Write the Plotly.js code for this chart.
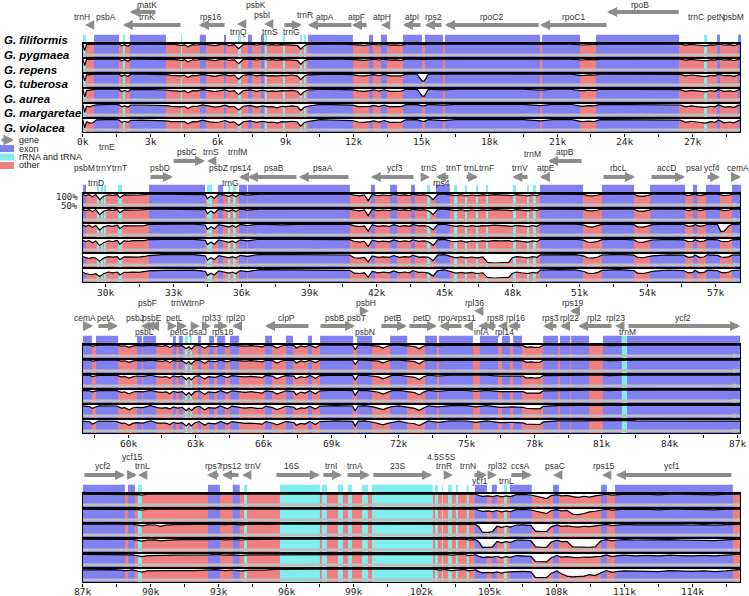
<!DOCTYPE html>
<html><head><meta charset="utf-8">
<script src="https://cdn.plot.ly/plotly-3.0.1.min.js"></script>
<style>html,body{margin:0;padding:0;background:#fff}#chart{width:749px;height:596px}</style>
</head><body><div id="chart"></div>
<script>
// ---------------- DATA ----------------
const species = ["G. filiformis","G. pygmaea","G. repens","G. tuberosa","G. aurea","G. margaretae","G. violacea"];
const t1 = ["0k","3k","6k","9k","12k","15k","18k","21k","24k","27k"];
const t2 = ["30k","33k","36k","39k","42k","45k","48k","51k","54k","57k"];
const t3 = ["60k","63k","66k","69k","72k","75k","78k","81k","84k","87k"];
const t4 = ["87k","90k","93k","96k","99k","102k","105k","108k","111k","114k"];

// panel 1 identity (%)
const p1x = [0,0.08,0.16,0.3,0.45,0.6,1.4,1.6,1.72,1.85, 2.0,2.12,2.6,3.0,3.4,3.7,3.9,4.1,4.35,4.5, 4.65,4.85,5.05,5.3,5.6,5.85,6.05,6.3,6.5,6.7, 6.9,7.1,7.4,7.7,7.95,8.2,8.4,8.6,8.8,9.0, 9.25,9.5,9.65,9.8,9.95,10.5,11.0,11.5,11.95,12.2, 12.45,12.7,12.9,13.1,13.35,13.6,13.85,14.1,14.3,14.8, 15.03,15.12, 15.3,15.98,16.5,17.5,18.5,19.5,20.28,20.8,21.6,22.1, 22.4,22.65,22.9,23.8,24.8,25.8,26.45,26.7,26.95,27.2, 27.4,27.58,27.8,28.0,28.15,28.4,28.65,28.85,29.05,29.16];
const p1pyg = [100,65,98,99,100,100,100,100,90,97, 88,100,100,100,100,99,96,98,92,97, 85,97,95,100,96,92,97,99,92,97, 75,97,100,95,99,95,97,94,97,96, 97,93,72,90,98,100,100,99,99,96, 93,97,99,95,99,94,96,93,100,100, 97,97, 100,99,100,100,100,100,98,100,100,95, 98,97,100,100,100,100,99,94,98,95, 93,90,96,94,100,95,97,92,99,100];
const p1rep = [100,65,98,99,100,100,100,100,90,97, 88,100,100,100,100,99,96,97,92,97, 85,96,95,100,96,92,97,99,92,97, 75,97,100,95,99,95,97,94,97,96, 97,93,72,90,98,100,100,99,99,96, 93,97,99,95,99,94,96,93,100,100, 97,97, 100,99,100,100,100,100,98,100,100,95, 98,96,100,100,100,100,99,94,98,95, 93,90,96,94,100,95,97,92,99,100];
const p1tub = [100,62,96,97,99,100,100,99,88,95, 87,99,99,98,99,97,93,92,90,94, 82,93,92,98,92,88,93,97,90,94, 72,93,98,90,96,90,92,90,93,92, 95,90,70,88,96,99,99,98,97,92, 90,94,97,91,98,90,92,90,99,99, 62,62, 99,97,99,99,99,100,96,99,100,92, 96,94,99,100,99,100,98,90,95,92, 88,86,93,90,99,91,93,88,97,99];
const p1aur = [100,58,92,95,97,100,100,98,86,92, 86,97,98,97,98,95,92,90,88,92, 80,91,90,97,90,86,90,96,88,92, 70,92,96,88,94,88,90,88,92,90, 93,88,68,86,94,99,98,97,96,90, 88,92,96,89,96,88,90,89,98,99, 62,62, 99,96,99,98,99,99,94,99,99,90, 94,92,99,99,99,99,97,88,93,90, 88,85,92,88,97,88,90,86,96,98];
const p1mar = [98,55,88,85,92,96,99,96,85,90, 84,95,95,94,96,92,88,86,85,88, 76,88,87,95,87,84,86,94,85,87, 68,88,93,84,90,85,86,80,88,86, 90,86,65,82,88,98,97,96,94,86, 85,88,93,86,94,85,86,86,97,98, 90,90, 98,94,98,97,98,98,92,98,99,88, 92,90,98,98,98,98,95,85,90,86, 84,82,88,85,96,84,86,82,94,97];
const p1vio = [95,52,85,78,80,96,98,95,82,88, 82,93,94,93,94,90,86,85,83,86, 75,86,85,94,85,82,84,92,82,85, 65,85,90,82,88,82,84,78,86,85, 88,84,62,80,86,97,95,95,92,84, 82,86,90,84,92,82,85,84,96,97, 88,88, 97,92,97,96,96,97,90,97,98,86, 89,86,97,97,97,98,94,82,88,84, 80,78,86,82,95,80,84,80,92,96];

// panel 2 identity (%)
const p2x = [28.94,29.10,29.25,29.40,29.55,29.72,29.90,30.10,30.30,30.50, 30.62,30.80,31.00,31.20,31.45,31.70,31.90,32.5,33.2,33.9, 34.40,34.50,34.65,34.80,35.00,35.25,35.45,35.60,35.75,35.95, 36.27,36.8,37.8,38.8,39.8,40.8,41.0,41.25,41.45,41.62, 41.80,42.05,42.30,42.55,42.75,43.00,43.25,43.45,43.60,43.85, 44.10,44.30,44.50,44.70,45.0,45.30,45.50,45.75,45.95,46.20, 46.45,46.70,46.90,47.20,47.50,47.85,48.00,48.20,48.40,48.70, 48.90,49.10,49.25,50.0,50.8,51.15,51.35,51.55,51.80,51.98, 52.7,53.4,53.55,53.80,54.05,54.2,54.9,55.6,55.80,56.00, 56.10,56.30,56.50,56.65,57.10,57.25,57.40,57.60,57.75,58.14];
const p2pyg = [99,92,97,85,97,70,88,96,93,97, 80,96,94,96,95,97,100,100,100,100, 97,75,90,78,99,94,88,96,86,100, 94,100,100,100,100,99,94,90,95,65, 98,92,95,91,99,93,96,92,100,94, 96,90,70,99,100,95,92,96,90,95, 92,96,93,97,95,96,92,97,94,90, 96,91,100,100,100,98,92,90,95,100, 100,99,90,88,94,99,100,99,92,95, 100,92,95,100,99,94,92,95,99,100];
const p2rep = [99,92,97,86,97,70,88,96,93,97, 80,96,94,96,95,97,100,100,100,100, 97,75,90,78,99,94,88,96,86,100, 94,100,100,100,100,99,94,90,95,65, 98,92,95,91,99,93,96,92,100,94, 96,90,70,99,100,95,92,96,90,95, 92,96,93,97,95,96,92,97,94,90, 96,91,100,100,100,98,92,90,95,100, 100,99,90,88,94,99,100,99,92,95, 100,92,95,100,99,94,92,95,99,100];
const p2tub = [97,88,94,82,92,68,85,92,88,94, 75,92,90,91,90,92,98,100,99,99, 95,72,86,75,97,90,84,92,82,98, 92,100,96,100,99,98,90,86,90,62, 96,88,91,87,97,88,92,88,98,90, 92,87,68,97,99,90,88,92,86,91, 88,92,90,94,92,93,88,93,90,86, 92,88,99,100,99,96,86,84,90,98, 99,97,85,84,90,97,99,98,88,90, 98,88,91,99,97,60,62,90,98,99];
const p2aur = [95,86,92,80,90,65,80,90,86,92, 72,90,88,92,92,92,97,99,99,98, 93,70,84,72,95,88,82,90,80,96, 90,99,99,99,99,97,88,84,88,60, 94,86,89,85,95,86,90,86,96,88, 90,85,66,96,98,88,86,90,84,89, 86,90,88,92,90,91,86,91,88,84, 90,86,98,99,99,94,84,82,88,97, 99,96,84,82,88,95,98,96,86,88, 97,86,89,98,96,88,86,88,96,98];
const p2mar = [88,80,76,82,78,62,78,86,84,86, 70,85,84,86,84,87,92,97,96,97, 90,68,80,70,92,84,80,86,78,93, 88,98,97,98,97,95,80,78,82,58, 90,82,85,82,92,82,86,83,94,84, 85,82,64,94,97,86,80,85,80,84, 80,85,55,52,52,55,80,86,84,80, 86,82,96,98,97,90,80,78,84,95, 98,94,82,80,84,90,96,94,82,85, 95,82,84,96,93,84,82,85,94,96];
const p2vio = [86,75,72,70,75,60,75,84,80,84, 68,82,82,84,82,85,90,93,93,94, 88,65,78,68,90,82,78,84,76,92, 86,97,96,96,96,93,78,76,80,56, 88,80,83,80,90,80,84,80,92,82, 82,78,62,92,96,84,78,82,78,82, 76,80,55,52,52,55,76,84,80,76, 82,78,94,97,96,88,78,76,82,93, 97,92,78,76,82,88,95,92,80,82, 93,80,82,94,92,82,80,84,92,95];

// panel 3 identity (%)
const p3x = [57.96,58.30,58.42,58.55,58.70,59.50,59.70,59.85,60.05,60.20, 60.38,60.65,61.0,61.30,61.50,61.70,61.85,62.00,62.20,62.40, 62.58,62.70,62.80,62.95,63.15,63.40,63.55,63.88,64.10,64.40, 64.60,65.00,65.20,65.45,65.70,65.95,66.10,66.40,66.60,66.80, 67.00,67.35,67.45,67.65,67.85,68.05,68.30,68.50,69.2,69.95, 70.06,70.2,70.5,70.85,71.1,71.30,71.50,71.7,72.0,72.40, 72.70,72.90,73.10,73.30,73.73,74.3,75.0,75.40,75.9,76.48, 77.0,77.5,77.65,77.85,78.05,78.25,78.40,79.0,79.8,80.4, 81.0,81.3,81.9,82.5,83.5,84.5,85.0,86.0,87.17];
const p3pyg = [100,99,94,96,100,99,94,96,88,94, 98,96,100,96,93,97,86,98,94,97, 80,92,78,96,99,82,96,92,99,90, 99,96,94,97,92,90,99,97,84,95, 99,97,84,95,90,99,86,99,100,99, 76,99,100,97,94,84,95,99,100,96, 92,80,95,100,97,100,100,97,100,96, 98,97,88,90,87,89,99,100,100,100, 100,97,100,100,100,100,100,100,100];
const p3rep = [100,99,94,96,100,99,94,96,88,94, 98,96,100,96,93,97,86,98,94,97, 80,92,78,96,99,82,96,92,99,90, 99,96,94,97,92,90,99,97,84,95, 99,97,84,95,90,99,86,99,100,99, 76,99,100,97,94,84,95,99,100,96, 92,80,95,100,97,100,100,97,100,96, 98,97,88,90,87,89,99,100,100,100, 100,97,100,100,100,100,100,100,100];
const p3tub = [99,98,92,94,99,98,90,93,84,90, 95,93,99,92,89,92,82,95,90,94, 75,88,74,92,97,78,92,88,98,86, 97,92,90,93,88,86,98,94,80,91, 97,94,80,91,86,98,82,97,99,98, 74,98,99,95,90,80,91,98,99,92, 88,76,91,99,95,99,99,95,99,94, 96,94,84,86,84,86,97,99,99,100, 100,97,100,100,100,100,99,100,100];
const p3aur = [98,96,90,92,98,97,88,90,80,88, 93,90,98,90,87,90,80,93,88,92, 72,86,72,90,96,76,90,86,97,84, 96,90,88,91,86,84,96,92,78,89, 96,92,75,89,84,96,80,96,99,97, 72,97,98,93,88,78,89,97,98,90, 86,74,89,98,93,99,98,93,98,92, 94,92,84,85,83,84,96,98,99,99, 100,97,100,99,99,99,99,99,100];
const p3mar = [96,92,82,88,96,95,84,86,74,84, 88,86,97,86,84,86,78,90,84,88, 70,84,70,86,94,74,86,84,95,80, 94,86,84,87,82,82,94,86,76,84, 94,88,76,85,82,94,78,94,97,95, 70,95,97,90,84,76,85,92,96,86, 82,72,86,96,90,97,97,90,97,88, 90,88,82,80,82,80,93,97,98,98, 99,96,99,98,97,98,96,98,98];
const p3vio = [94,90,78,85,95,93,82,84,72,82, 86,84,96,84,82,84,75,88,82,86, 68,82,68,84,92,72,84,80,93,78, 92,84,82,84,80,78,92,84,74,82, 92,86,72,82,78,92,76,92,96,93, 68,94,96,88,82,74,82,88,94,84, 80,70,84,95,88,96,95,88,96,86, 88,85,78,78,78,76,90,96,96,97, 98,95,98,96,96,96,95,96,94];

// panel 4 identity (%)
const p4x = [86.96,87.5,88.4,88.9,89.2,89.45,89.62,89.85,90.2,90.45, 90.65,91.0,91.5,91.9,92.2,92.5,92.9,93.3,93.6,94.0, 94.4,95.0,95.5,97.5,102.55,102.8,103.05,103.3,103.6,103.9, 104.1,104.25,104.4,104.55,104.7,104.95,105.15,105.35,105.55,105.75, 105.95,106.2,106.5,106.85,107.05,107.3,107.55,107.75,108.0,108.2, 108.45,108.7,108.95,109.2,109.45,109.7,109.95,110.2,110.45,110.7, 111.0,111.5,112.0,112.5,113.0,113.5,114.0,114.5,115.0,115.5, 115.8,116.16];
const p4pyg = [100,100,100,99,100,97,94,99,100,100, 100,99,100,99,100,99,100,98,100,97, 100,99,100,100,100,100,100,100,100,100, 97,99,100,92,88,90,86,92,85,90, 86,97,98,95,90,85,76,92,97,90, 93,86,82,88,84,90,94,99,94,98, 100,98,100,96,100,99,98,100,96,100, 100,100];
const p4rep = [100,100,100,99,100,97,94,99,100,99, 100,99,99,99,100,99,100,98,100,97, 100,99,100,100,100,100,100,100,100,100, 97,99,100,92,88,90,86,92,85,90, 86,97,98,95,90,85,76,92,97,90, 93,72,70,76,85,88,94,99,94,98, 100,98,100,96,100,99,98,100,96,100, 100,100];
const p4tub = [100,100,100,97,99,94,90,96,95,88, 94,97,98,97,98,98,100,97,99,96, 99,98,100,100,100,100,100,99,100,100, 96,98,98,85,56,55,60,88,82,88, 84,95,96,93,62,60,60,85,95,88, 90,86,84,88,86,90,92,98,92,96, 98,96,97,94,98,96,95,97,94,98, 99,100];
const p4aur = [100,100,100,97,98,93,89,94,96,90, 93,96,97,96,96,97,99,96,98,95, 98,97,100,100,100,99,100,98,99,100, 95,97,97,84,55,55,58,87,80,86, 82,94,95,92,58,56,56,84,94,86, 88,58,56,56,56,58,90,97,90,95, 97,95,96,93,97,95,94,96,92,96, 98,100];
const p4mar = [98,98,98,95,96,90,86,92,94,92, 93,94,94,93,94,95,98,94,96,93, 96,96,99,100,100,96,98,94,97,99, 92,95,96,88,82,85,84,88,80,86, 82,92,92,88,60,58,58,80,92,84, 86,82,80,84,82,86,88,95,86,92, 94,90,93,90,94,92,90,93,90,94, 96,99];
const p4vio = [96,96,97,92,95,88,84,90,92,90, 92,92,90,92,93,93,97,92,95,90, 94,94,98,100,100,94,98,92,96,98, 90,93,95,86,80,82,80,85,78,84, 85,90,88,85,55,54,54,78,90,75, 62,58,60,62,70,65,80,92,82,88, 90,88,90,86,92,88,87,90,86,90, 95,98];

// annotated features (kb)
const p1ExonStart = [0.49,2.08,5.18,6.25,7.31,7.89,9.97,12.67,13.20,14.18,15.15,16.04,20.34,22.73,28.09,29.02];
const p1ExonEnd   = [1.60,3.68,5.45,6.34,7.49,8.02,11.96,12.85,13.47,15.02,15.95,20.25,22.02,26.41,28.22,29.16];
const p1RnaStart  = [0.00,1.77,4.34,6.87,8.06,8.86,9.61,9.79,27.51];
const p1RnaEnd    = [0.13,1.86,4.39,7.00,8.15,8.95,9.70,9.88,27.65];
const p2ExonStart = [28.98,31.91,34.97,35.90,36.29,41.74,42.59,43.52,44.62,49.23,51.98,54.11,56.01,56.59,57.74];
const p2ExonEnd   = [29.12,34.39,35.19,36.25,40.81,41.92,42.90,43.69,45.24,51.14,53.40,55.66,56.19,57.21,58.14];
const p2RnaStart  = [29.60,29.78,29.91,30.54,34.48,35.41,35.63,44.23,45.42,45.91,46.40,46.84,48.04,48.66,48.92];
const p2RnaEnd    = [29.69,29.87,30.00,30.72,34.70,35.50,35.76,44.37,45.56,46.00,46.49,46.93,48.17,48.75,49.05];
const p3ExonStart = [58.00,58.58,60.40,60.67,61.99,62.25,63.10,63.59,63.95,64.52,66.07,67.00,67.97,68.51,70.15,71.61,73.16,73.78,75.59,76.57,77.06,78.39,79.14,79.63,81.04,82.11];
const p3ExonEnd   = [58.40,59.56,60.62,61.24,62.12,62.43,63.23,63.81,64.30,64.92,66.38,67.31,68.15,69.97,70.82,72.37,73.69,75.28,76.39,76.92,77.46,79.05,79.59,80.43,81.88,87.12];
const p3RnaStart  = [62.52,62.74,81.88];
const p3RnaEnd    = [62.65,62.83,82.11];
const p4ExonStart = [87.00,89.00,92.54,93.64,104.37,105.12,105.92,107.83,109.96,110.58];
const p4ExonEnd   = [88.86,89.31,93.07,93.95,104.90,105.34,106.89,108.09,110.22,115.80];
const p4RnaStart  = [89.44,94.14,95.73,97.59,98.30,98.75,99.37,99.81,102.60,102.91,103.18,103.53,104.01,105.66];
const p4RnaEnd    = [89.61,94.27,97.50,97.81,98.52,98.92,99.63,102.51,102.73,102.95,103.35,103.62,104.10,105.79];

// genes (kb)
const g1Name = ["trnH","psbA","trnK","matK","rps16","trnQ","psbK","psbI","trnS","trnG","trnR","atpA","atpF","atpH","atpI","rps2","rpoC2","rpoC1","rpoB","trnC","petN","psbM"];
const g1Start = [0.09,0.49,1.77,2.08,5.14,6.82,7.27,7.89,8.02,8.86,9.79,9.97,11.92,13.20,14.18,15.15,16.04,20.25,23.22,27.51,28.05,28.98];
const g1End   = [0.27,1.60,4.39,3.28,6.34,7.00,7.44,8.02,8.20,9.70,9.92,11.96,12.63,13.42,15.02,15.95,20.25,23.26,26.46,27.65,28.22,29.15];
const g1Strand = [-1,-1,-1,-1,-1,-1,1,1,-1,1,1,-1,-1,-1,-1,-1,-1,-1,-1,1,1,-1];
const g2Name = ["psbM","trnD","trnY","trnE","trnT","psbD","psbC","trnS","psbZ","trnG","trnfM","rps14","psaB","psaA","ycf3","trnS","rps4","trnT","trnL","trnF","trnV","trnM","atpE","atpB","rbcL","accD","psaI","ycf4","cemA"];
const g2Start = [28.98,29.29,29.69,29.91,30.54,31.91,32.93,34.48,34.97,35.32,35.63,35.90,36.29,38.55,41.74,44.18,44.62,45.42,45.91,46.80,48.01,48.88,49.23,49.59,51.98,54.11,55.97,56.59,57.74];
const g2End   = [29.12,29.43,29.83,30.05,30.71,32.97,34.39,34.66,35.14,35.45,35.76,36.25,38.51,40.81,43.69,44.36,45.24,45.55,46.49,46.93,48.75,49.01,49.68,51.14,53.44,55.66,56.14,57.21,58.14];
const g2Strand = [-1,-1,-1,-1,-1,1,1,-1,1,1,-1,-1,-1,-1,-1,1,-1,-1,1,1,-1,1,-1,-1,1,1,1,1,1];
const g3Name = ["cemA","petA","psbJ","psbL","psbF","psbE","petL","petG","trnW","trnP","psaJ","rpl33","rps18","rpl20","clpP","psbB","psbT","psbN","psbH","petB","petD","rpoA","rps11","rpl36","infA","rps8","rpl14","rpl16","rps3","rpl22","rps19","rpl2","rpl23","trnM","ycf2"];
const g3Start = [58.00,58.62,60.40,60.57,60.75,60.93,61.99,62.26,62.35,62.52,63.01,63.41,63.76,64.61,66.07,68.46,70.06,70.28,70.50,71.16,72.40,73.78,74.84,75.33,75.51,75.77,76.39,76.83,78.39,79.14,79.58,79.94,81.58,81.89,82.11];
const g3End   = [58.45,59.56,60.57,60.75,60.93,61.28,62.17,62.61,62.48,62.66,63.19,63.68,64.43,65.09,68.06,70.06,70.23,70.41,70.68,72.36,73.69,74.84,75.28,75.51,75.73,76.35,76.70,77.45,79.05,79.58,79.94,81.49,81.89,82.02,87.12];
const g3Strand = [1,1,-1,-1,-1,-1,1,1,-1,-1,1,1,1,-1,-1,1,1,-1,1,1,1,-1,-1,-1,-1,-1,-1,-1,-1,-1,-1,-1,-1,-1,1];
const g4Name = ["ycf2","ycf15","trnL","rps7","rps12","trnV","16S","trnI","trnA","23S","4.5S","5S","trnR","trnN","ycf1","rpl32","trnL","ccsA","psaC","rps15","ycf1"];
const g4Start = [87.00,89.00,89.44,92.50,93.16,94.05,95.51,97.59,98.66,99.81,102.60,102.91,103.22,104.00,104.28,105.13,105.66,105.92,107.83,110.00,110.62];
const g4End   = [88.87,89.40,89.62,93.07,93.96,94.23,97.50,98.48,99.72,102.47,102.73,103.04,103.40,104.13,104.90,105.35,105.79,106.90,108.05,110.22,115.80];
const g4Strand = [1,1,-1,-1,-1,-1,1,1,1,1,1,1,1,-1,1,1,-1,1,-1,-1,-1];

// ---------------- LAYOUT (label placement, px above box top) ----------------
const l1Arrow = [18,null,18,31,18,19,28,19,19,18,18,18,18,18,18,18,18,18,31,18,18,18];
const l1LabX  = [-0.04,1.02,2.84,2.84,5.67,6.87,7.67,7.93,8.29,9.26,9.84,10.72,12.14,13.25,14.58,15.51,18.08,21.71,24.68,27.17,28.03,28.82];
const l1LabDy = [26,26,26,38,26,11,38,28,11,11,28,26,26,26,26,26,26,26,38,26,26,26];
const l2Arrow = [16,16,16,37,16,16,32,32,16,16,32,16,16,16,16,16,16,16,16,16,16,32,16,32,16,16,16,16,16];
const l2LabX  = [29.03,29.56,29.91,30.05,30.62,32.40,33.59,34.66,35.01,35.54,35.85,35.98,37.45,39.62,42.81,44.31,44.89,45.42,46.18,46.88,48.35,48.88,49.50,50.34,52.69,54.86,56.06,56.85,58.01];
const l2LabDy = [25,10,25,46,25,25,41,41,25,10,41,25,25,25,25,25,10,25,25,25,25,39,25,41,25,25,25,25,25];
const l3Arrow = [18,18,18,18,18,18,18,18,33,33,18,18,18,18,18,18,18,18,33,18,18,18,18,33,18,18,18,18,18,18,33,18,18,18,18];
const l3LabX  = [58.09,59.02,60.31,60.75,60.84,61.06,62.04,62.26,62.30,63.06,63.10,63.72,64.21,64.78,67.04,69.17,70.14,70.50,70.54,71.74,73.02,74.13,74.97,75.33,75.64,76.26,76.70,77.19,78.70,79.58,79.72,80.64,81.58,82.11,84.59];
const l3LabDy = [26,26,26,12,41,26,26,12,41,41,12,26,12,26,26,26,26,12,41,26,26,26,26,41,12,26,12,26,26,26,41,26,26,12,26];
const l4Arrow = [18,18,18,18,18,18,18,18,18,18,18,18,18,18,18,18,18,18,18,18,18];
const l4LabX  = [87.89,89.18,89.62,92.80,93.56,94.52,96.26,98.00,99.06,100.92,102.64,103.31,102.99,104.06,104.59,105.39,105.75,106.41,107.92,110.09,113.10];
const l4LabDy = [27,36,27,27,27,27,27,27,27,27,36,36,27,27,12,27,12,27,27,27,27];

const W = 749, H = 596;
const BOX_TOP = [43,193,344,493];
const TICK_GAP = [8,9,9,8];
const XRANGE = [[-0.04,29.15],[28.94,58.14],[57.96,87.16],[86.96,116.16]];
const C = {exon:'#8080f0', rna:'#80eeee', other:'#f08080', band:'#bebebe', gene:'#8c8c8c', text:'#333'};
const SANS = 'Liberation Sans, Arial, sans-serif';
const MONO = 'DejaVu Sans Mono, monospace';

const panels = [
  {x:p1x, ids:[p1pyg,p1rep,p1tub,p1aur,p1mar,p1vio], exS:p1ExonStart, exE:p1ExonEnd, rnS:p1RnaStart, rnE:p1RnaEnd,
   gN:g1Name, gS:g1Start, gE:g1End, gD:g1Strand, la:l1Arrow, lx:l1LabX, ly:l1LabDy, ticks:t1, bandArrow:false},
  {x:p2x, ids:[p2pyg,p2rep,p2tub,p2aur,p2mar,p2vio], exS:p2ExonStart, exE:p2ExonEnd, rnS:p2RnaStart, rnE:p2RnaEnd,
   gN:g2Name, gS:g2Start, gE:g2End, gD:g2Strand, la:l2Arrow, lx:l2LabX, ly:l2LabDy, ticks:t2, bandArrow:true},
  {x:p3x, ids:[p3pyg,p3rep,p3tub,p3aur,p3mar,p3vio], exS:p3ExonStart, exE:p3ExonEnd, rnS:p3RnaStart, rnE:p3RnaEnd,
   gN:g3Name, gS:g3Start, gE:g3End, gD:g3Strand, la:l3Arrow, lx:l3LabX, ly:l3LabDy, ticks:t3, bandArrow:true},
  {x:p4x, ids:[p4pyg,p4rep,p4tub,p4aur,p4mar,p4vio], exS:p4ExonStart, exE:p4ExonEnd, rnS:p4RnaStart, rnE:p4RnaEnd,
   gN:g4Name, gS:g4Start, gE:g4End, gD:g4Strand, la:l4Arrow, lx:l4LabX, ly:l4LabDy, ticks:t4, bandArrow:false}
];

const pyPaper = py => 1 - py / H;
const traces = [];
const layout = {width:W, height:H, margin:{l:0,r:0,t:0,b:0}, paper_bgcolor:'#fff', plot_bgcolor:'rgba(0,0,0,0)',
  showlegend:false, shapes:[], annotations:[], hovermode:false};

function idY(v, T){ const c = Math.max(50, Math.min(100, v)); return T - 0.07 - (100 - c) / 50 * 0.62; }

panels.forEach((P, i) => {
  const sfx = i === 0 ? '' : String(i + 1);
  const xr = 'x' + sfx, yr = 'y' + sfx;
  const bt = BOX_TOP[i], x0 = XRANGE[i][0], x1 = XRANGE[i][1];
  const tv = P.ticks.map(t => parseFloat(t));
  layout['xaxis' + sfx] = {domain:[82/W, 741/W], range:[x0, x1], anchor:yr, tickmode:'array', tickvals:tv, showticklabels:false,
    ticks:'outside', ticklen:3, tickwidth:1, tickcolor:'#000', showgrid:false, zeroline:false, showline:false, fixedrange:true,
    minor:{tickmode:'linear', tick0:0, dtick:1.5, ticks:'outside', ticklen:3, tickwidth:1, tickcolor:'#000', showgrid:false}};
  layout['yaxis' + sfx] = {domain:[pyPaper(bt + 90), pyPaper(bt - 9)], range:[0, 6.6], visible:false, fixedrange:true};

  // tick labels (placed close under the box like the original)
  P.ticks.forEach((t, k) => layout.annotations.push({xref:xr, yref:'paper', x:tv[k], y:pyPaper(bt + 90 + TICK_GAP[i]),
    text:t, showarrow:false, xanchor:'center', yanchor:'middle', font:{family:MONO, size:9.5, color:'#222'}}));

  // backgrounds
  layout.shapes.push({type:'rect', xref:xr, yref:yr, x0:x0, x1:x1, y0:0, y1:6, fillcolor:C.other, line:{width:0}, layer:'below'});
  const addRegions = (S, E, col) => S.forEach((s, k) => {
    layout.shapes.push({type:'rect', xref:xr, yref:yr, x0:s, x1:E[k], y0:0, y1:6, fillcolor:col, line:{width:0}, layer:'below'});
    layout.shapes.push({type:'rect', xref:xr, yref:yr, x0:s, x1:E[k], y0:6, y1:6.55, fillcolor:col, line:{width:0}, layer:'below'});
  });
  addRegions(P.exS, P.exE, C.exon);
  addRegions(P.rnS, P.rnE, C.rna);

  // tracks
  const span = x1 - x0;
  P.ids.forEach((arr, k) => {
    const T = 6 - k;
    const n = Math.min(P.x.length, arr.length);
    const xs = P.x.slice(0, n), ys = arr.slice(0, n).map(v => idY(v, T));
    traces.push({type:'scatter', mode:'lines', xaxis:xr, yaxis:yr, x:xs.concat(xs.slice().reverse()),
      y:ys.concat(xs.map(() => T)), fill:'toself', fillcolor:'#ffffff', line:{width:0}, hoverinfo:'skip'});
    traces.push({type:'scatter', mode:'lines', xaxis:xr, yaxis:yr, x:xs, y:ys, line:{color:'#000', width:1.2}, hoverinfo:'skip'});
    layout.shapes.push({type:'rect', xref:xr, yref:yr, x0:x0, x1:x1, y0:T - 0.87, y1:T - 0.70, fillcolor:C.band, line:{width:0}, layer:'above'});
    if (P.bandArrow) {
      const xa = x1 - span * 0.012;
      layout.shapes.push({type:'path', xref:xr, yref:yr, layer:'above', fillcolor:C.band, line:{width:0},
        path:`M ${xa} ${T - 0.62} L ${x1} ${T - 0.785} L ${xa} ${T - 0.95} Z`});
    }
    layout.shapes.push({type:'line', xref:xr, yref:yr, x0:x0, x1:x1, y0:T, y1:T, line:{color:'#000', width:2}, layer:'above'});
  });
  layout.shapes.push({type:'rect', xref:xr, yref:yr, x0:x0, x1:x1, y0:0, y1:6, fillcolor:'rgba(0,0,0,0)', line:{color:'#000', width:2}, layer:'above'});

  // genes
  P.gN.forEach((name, k) => {
    const s = P.gS[k], e = P.gE[k], d = P.gD[k];
    if (P.la[k] !== null) {
      const small = (e - s) < 0.35;
      layout.annotations.push({xref:xr, yref:'paper', x:(d > 0 ? e : s), y:pyPaper(bt - P.la[k]),
        axref:xr, ayref:'pixel', ax:(d > 0 ? s : e), ay:0, text:'', showarrow:true, arrowhead:2,
        arrowsize:small ? 0.85 : 0.5, arrowwidth:small ? 2.2 : 4, arrowcolor:C.gene, standoff:0});
    }
    layout.annotations.push({xref:xr, yref:'paper', x:P.lx[k], y:pyPaper(bt - P.ly[k]), text:name, showarrow:false,
      font:{family:SANS, size:8.5, color:C.text}, xanchor:'center', yanchor:'middle'});
  });
});

// species labels
const spY = [40,55,70,84,99,113,128];
species.forEach((s, k) => layout.annotations.push({xref:'paper', yref:'paper', x:2/W, y:pyPaper(spY[k]), xanchor:'left', yanchor:'middle',
  text:'<b><i>' + s + '</i></b>', showarrow:false, font:{family:SANS, size:11.5, color:'#000'}}));

// 100% / 50%
layout.annotations.push({xref:'paper', yref:'paper', x:80/W, y:pyPaper(197), xanchor:'right', yanchor:'middle', text:'100%', showarrow:false, font:{family:MONO, size:9, color:'#222'}});
layout.annotations.push({xref:'paper', yref:'paper', x:80/W, y:pyPaper(206), xanchor:'right', yanchor:'middle', text:'50%', showarrow:false, font:{family:MONO, size:9, color:'#222'}});

// legend
const legItems = [['exon', C.exon, 148.5], ['rRNA and tRNA', C.rna, 157], ['other', C.other, 165.5]];
layout.annotations.push({xref:'paper', yref:'paper', x:14/W, y:pyPaper(140), axref:'pixel', ayref:'pixel', ax:-14, ay:0, text:'', showarrow:true,
  arrowhead:2, arrowsize:0.7, arrowwidth:3, arrowcolor:C.gene});
layout.annotations.push({xref:'paper', yref:'paper', x:17/W, y:pyPaper(140), xanchor:'left', yanchor:'middle', text:'gene', showarrow:false, font:{family:SANS, size:9, color:'#222'}});
legItems.forEach(it => {
  layout.shapes.push({type:'rect', xref:'paper', yref:'paper', x0:0, x1:14/W, y0:pyPaper(it[2] + 3.5), y1:pyPaper(it[2] - 3.5), fillcolor:it[1], line:{width:0}});
  layout.annotations.push({xref:'paper', yref:'paper', x:17/W, y:pyPaper(it[2]), xanchor:'left', yanchor:'middle', text:it[0], showarrow:false, font:{family:SANS, size:9, color:'#222'}});
});

Plotly.newPlot('chart', traces, layout, {staticPlot:true, displayModeBar:false});
</script></body></html>
